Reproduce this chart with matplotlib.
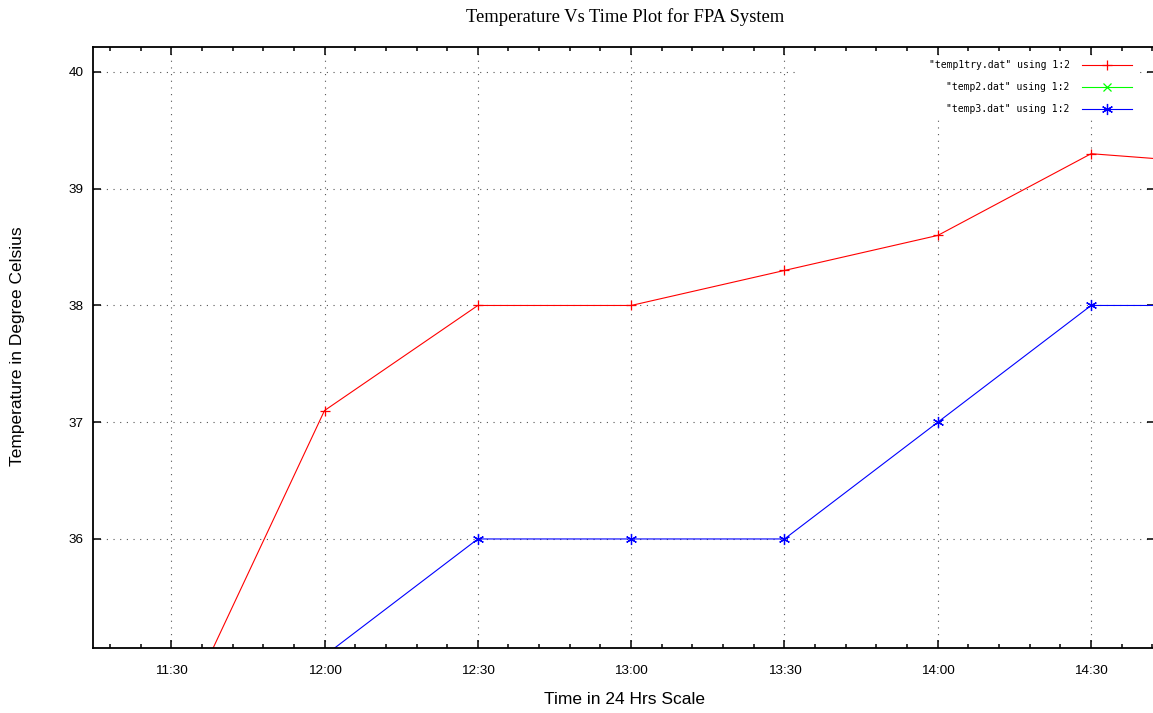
import matplotlib
matplotlib.use("Agg")
import matplotlib.pyplot as plt
from matplotlib.ticker import MultipleLocator, FuncFormatter
from matplotlib.patches import Rectangle

plt.rcParams["font.family"] = ["Liberation Sans", "DejaVu Sans"]

# data
red_times = ["11:30", "12:00", "12:30", "13:00", "13:30", "14:00", "14:30", "15:00"]
red_temps = [34.3, 37.1, 38.0, 38.0, 38.3, 38.6, 39.3, 39.2]
green_times = []
green_temps = []
blue_times = ["12:00", "12:30", "13:00", "13:30", "14:00", "14:30", "15:00"]
blue_temps = [35.0, 36.0, 36.0, 36.0, 37.0, 38.0, 38.0]
labels = ['"temp1try.dat" using 1:2', '"temp2.dat" using 1:2', '"temp3.dat" using 1:2']


def to_min(t):
    h, m = t.split(":")
    return int(h) * 60 + int(m)


def fmt_time(v, pos):
    v = int(round(v))
    return f"{v // 60}:{v % 60:02d}"


fig = plt.figure(figsize=(11.53, 7.13), dpi=100)
ax = fig.add_axes([93 / 1153, 65 / 713, 1062 / 1153, 601 / 713])

ax.plot([to_min(t) for t in red_times], red_temps, color="red", lw=0.8,
        marker="+", ms=7, mew=0.9, label=labels[0])
ax.plot([to_min(t) for t in green_times], green_temps, color="#00ff00", lw=0.8,
        marker="x", ms=6, mew=0.9, label=labels[1])
ax.plot([to_min(t) for t in blue_times], blue_temps, color="blue", lw=0.8,
        marker=(6, 2, 0), ms=8, mew=0.9, label=labels[2])

ax.set_xlim(674.7, 882.5)
ax.set_ylim(35.066, 40.214)

ax.xaxis.set_major_locator(MultipleLocator(30))
ax.xaxis.set_minor_locator(MultipleLocator(6))
ax.xaxis.set_major_formatter(FuncFormatter(fmt_time))
ax.yaxis.set_major_locator(MultipleLocator(1))
ax.yaxis.set_major_formatter(FuncFormatter(lambda v, p: f"{v:g}"))

ax.tick_params(which="both", direction="in", top=True, right=True, width=1.1)
ax.tick_params(which="major", length=6)
ax.tick_params(which="minor", length=3)
ax.tick_params(axis="x", pad=12, labelsize=9.7)
ax.tick_params(axis="y", pad=7, labelsize=9.7)
for s in ax.spines.values():
    s.set_linewidth(1.3)

ax.grid(True, which="major", color="#555555", lw=0.8, linestyle=(0, (1, 5)))

# gnuplot clears the key area
ax.add_patch(Rectangle((0.661, 0.882), 0.325, 0.103, transform=ax.transAxes,
                       facecolor="white", edgecolor="none", zorder=1.8))

leg = ax.legend(loc="upper right", bbox_to_anchor=(1135 / 1153, 1 - 57 / 713),
                bbox_transform=fig.transFigure, markerfirst=False, frameon=False,
                prop={"family": "DejaVu Sans Mono", "size": 7},
                handlelength=5.2, handletextpad=1.2, labelspacing=1.25,
                borderaxespad=0, borderpad=0.3)
for t in leg.get_texts():
    t.set_ha("right")

fig.text(625 / 1153, 1 - 17 / 713, "Temperature Vs Time Plot for FPA System",
         ha="center", va="center", family="Liberation Serif", fontsize=13.4)
fig.text(625 / 1153, 1 - 700 / 713, "Time in 24 Hrs Scale",
         ha="center", va="center", fontsize=12.5)
fig.text(18 / 1153, 1 - 346 / 713, "Temperature in Degree Celsius", rotation=90,
         ha="center", va="center", fontsize=12.5)

fig.savefig("out.png", dpi=100)
